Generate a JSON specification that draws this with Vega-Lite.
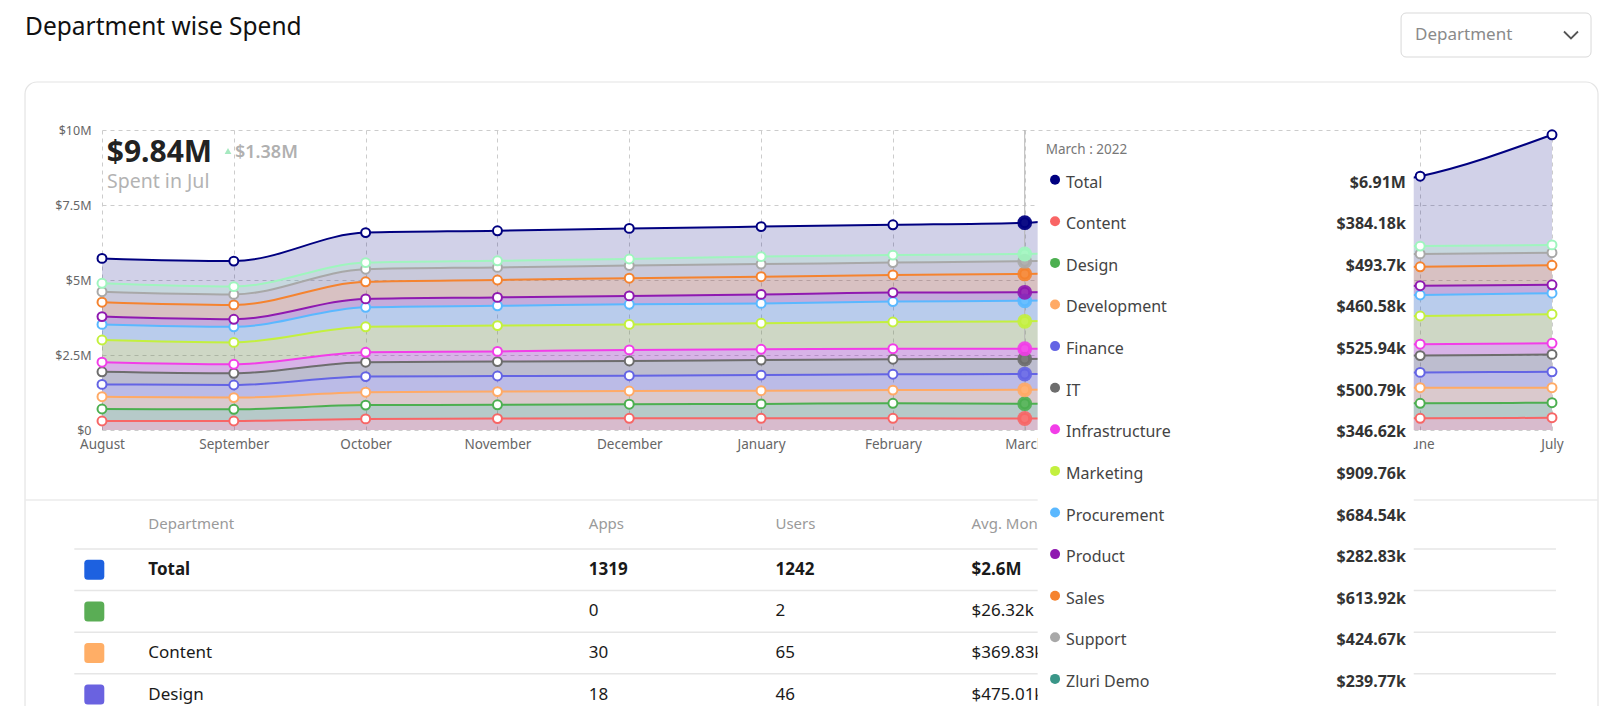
{
  "$schema": "https://vega.github.io/schema/vega-lite/v6.json",
  "width": 1450,
  "height": 300,
  "autosize": {"type": "none"},
  "padding": {"left": 102, "top": 130, "right": 48, "bottom": 276},
  "background": "#ffffff",
  "config": {"view": {"stroke": null}, "font": "Noto Sans"},
  "datasets": {
    "total": [
      {"month": "August", "total": 5720000},
      {"month": "September", "total": 5630000},
      {"month": "October", "total": 6580000},
      {"month": "November", "total": 6640000},
      {"month": "December", "total": 6720000},
      {"month": "January", "total": 6780000},
      {"month": "February", "total": 6840000},
      {"month": "March", "total": 6910000},
      {"month": "April", "total": 7420000},
      {"month": "May", "total": 7950000},
      {"month": "June", "total": 8460000},
      {"month": "July", "total": 9840000}
    ],
    "spend": [
      {"month": "August", "dept": "Content", "spend": 300000},
      {"month": "August", "dept": "Design", "spend": 400000},
      {"month": "August", "dept": "Development", "spend": 410000},
      {"month": "August", "dept": "Finance", "spend": 410000},
      {"month": "August", "dept": "IT", "spend": 420000},
      {"month": "August", "dept": "Infrastructure", "spend": 320000},
      {"month": "August", "dept": "Marketing", "spend": 740000},
      {"month": "August", "dept": "Procurement", "spend": 520000},
      {"month": "August", "dept": "Product", "spend": 260000},
      {"month": "August", "dept": "Sales", "spend": 480000},
      {"month": "August", "dept": "Support", "spend": 350000},
      {"month": "August", "dept": "Zluri Demo", "spend": 280000},
      {"month": "September", "dept": "Content", "spend": 300000},
      {"month": "September", "dept": "Design", "spend": 390000},
      {"month": "September", "dept": "Development", "spend": 390000},
      {"month": "September", "dept": "Finance", "spend": 420000},
      {"month": "September", "dept": "IT", "spend": 390000},
      {"month": "September", "dept": "Infrastructure", "spend": 300000},
      {"month": "September", "dept": "Marketing", "spend": 730000},
      {"month": "September", "dept": "Procurement", "spend": 520000},
      {"month": "September", "dept": "Product", "spend": 250000},
      {"month": "September", "dept": "Sales", "spend": 480000},
      {"month": "September", "dept": "Support", "spend": 350000},
      {"month": "September", "dept": "Zluri Demo", "spend": 260000},
      {"month": "October", "dept": "Content", "spend": 370000},
      {"month": "October", "dept": "Design", "spend": 460000},
      {"month": "October", "dept": "Development", "spend": 430000},
      {"month": "October", "dept": "Finance", "spend": 520000},
      {"month": "October", "dept": "IT", "spend": 480000},
      {"month": "October", "dept": "Infrastructure", "spend": 330000},
      {"month": "October", "dept": "Marketing", "spend": 850000},
      {"month": "October", "dept": "Procurement", "spend": 650000},
      {"month": "October", "dept": "Product", "spend": 280000},
      {"month": "October", "dept": "Sales", "spend": 570000},
      {"month": "October", "dept": "Support", "spend": 420000},
      {"month": "October", "dept": "Zluri Demo", "spend": 220000},
      {"month": "November", "dept": "Content", "spend": 380000},
      {"month": "November", "dept": "Design", "spend": 460000},
      {"month": "November", "dept": "Development", "spend": 440000},
      {"month": "November", "dept": "Finance", "spend": 520000},
      {"month": "November", "dept": "IT", "spend": 480000},
      {"month": "November", "dept": "Infrastructure", "spend": 340000},
      {"month": "November", "dept": "Marketing", "spend": 860000},
      {"month": "November", "dept": "Procurement", "spend": 660000},
      {"month": "November", "dept": "Product", "spend": 280000},
      {"month": "November", "dept": "Sales", "spend": 580000},
      {"month": "November", "dept": "Support", "spend": 420000},
      {"month": "November", "dept": "Zluri Demo", "spend": 220000},
      {"month": "December", "dept": "Content", "spend": 390000},
      {"month": "December", "dept": "Design", "spend": 470000},
      {"month": "December", "dept": "Development", "spend": 440000},
      {"month": "December", "dept": "Finance", "spend": 510000},
      {"month": "December", "dept": "IT", "spend": 490000},
      {"month": "December", "dept": "Infrastructure", "spend": 370000},
      {"month": "December", "dept": "Marketing", "spend": 850000},
      {"month": "December", "dept": "Procurement", "spend": 670000},
      {"month": "December", "dept": "Product", "spend": 280000},
      {"month": "December", "dept": "Sales", "spend": 590000},
      {"month": "December", "dept": "Support", "spend": 420000},
      {"month": "December", "dept": "Zluri Demo", "spend": 220000},
      {"month": "January", "dept": "Content", "spend": 390000},
      {"month": "January", "dept": "Design", "spend": 480000},
      {"month": "January", "dept": "Development", "spend": 440000},
      {"month": "January", "dept": "Finance", "spend": 520000},
      {"month": "January", "dept": "IT", "spend": 500000},
      {"month": "January", "dept": "Infrastructure", "spend": 360000},
      {"month": "January", "dept": "Marketing", "spend": 870000},
      {"month": "January", "dept": "Procurement", "spend": 660000},
      {"month": "January", "dept": "Product", "spend": 300000},
      {"month": "January", "dept": "Sales", "spend": 590000},
      {"month": "January", "dept": "Support", "spend": 420000},
      {"month": "January", "dept": "Zluri Demo", "spend": 250000},
      {"month": "February", "dept": "Content", "spend": 390000},
      {"month": "February", "dept": "Design", "spend": 500000},
      {"month": "February", "dept": "Development", "spend": 440000},
      {"month": "February", "dept": "Finance", "spend": 530000},
      {"month": "February", "dept": "IT", "spend": 500000},
      {"month": "February", "dept": "Infrastructure", "spend": 350000},
      {"month": "February", "dept": "Marketing", "spend": 890000},
      {"month": "February", "dept": "Procurement", "spend": 680000},
      {"month": "February", "dept": "Product", "spend": 300000},
      {"month": "February", "dept": "Sales", "spend": 590000},
      {"month": "February", "dept": "Support", "spend": 410000},
      {"month": "February", "dept": "Zluri Demo", "spend": 250000},
      {"month": "March", "dept": "Content", "spend": 384180},
      {"month": "March", "dept": "Design", "spend": 493700},
      {"month": "March", "dept": "Development", "spend": 460580},
      {"month": "March", "dept": "Finance", "spend": 525940},
      {"month": "March", "dept": "IT", "spend": 500790},
      {"month": "March", "dept": "Infrastructure", "spend": 346620},
      {"month": "March", "dept": "Marketing", "spend": 909760},
      {"month": "March", "dept": "Procurement", "spend": 684540},
      {"month": "March", "dept": "Product", "spend": 282830},
      {"month": "March", "dept": "Sales", "spend": 613920},
      {"month": "March", "dept": "Support", "spend": 424670},
      {"month": "March", "dept": "Zluri Demo", "spend": 239770},
      {"month": "April", "dept": "Content", "spend": 388000},
      {"month": "April", "dept": "Design", "spend": 497000},
      {"month": "April", "dept": "Development", "spend": 480000},
      {"month": "April", "dept": "Finance", "spend": 522000},
      {"month": "April", "dept": "IT", "spend": 520000},
      {"month": "April", "dept": "Infrastructure", "spend": 360000},
      {"month": "April", "dept": "Marketing", "spend": 920000},
      {"month": "April", "dept": "Procurement", "spend": 690000},
      {"month": "April", "dept": "Product", "spend": 295000},
      {"month": "April", "dept": "Sales", "spend": 620000},
      {"month": "April", "dept": "Support", "spend": 428000},
      {"month": "April", "dept": "Zluri Demo", "spend": 250000},
      {"month": "May", "dept": "Content", "spend": 390000},
      {"month": "May", "dept": "Design", "spend": 498000},
      {"month": "May", "dept": "Development", "spend": 500000},
      {"month": "May", "dept": "Finance", "spend": 518000},
      {"month": "May", "dept": "IT", "spend": 540000},
      {"month": "May", "dept": "Infrastructure", "spend": 370000},
      {"month": "May", "dept": "Marketing", "spend": 930000},
      {"month": "May", "dept": "Procurement", "spend": 696000},
      {"month": "May", "dept": "Product", "spend": 302000},
      {"month": "May", "dept": "Sales", "spend": 626000},
      {"month": "May", "dept": "Support", "spend": 430000},
      {"month": "May", "dept": "Zluri Demo", "spend": 255000},
      {"month": "June", "dept": "Content", "spend": 390000},
      {"month": "June", "dept": "Design", "spend": 500000},
      {"month": "June", "dept": "Development", "spend": 520000},
      {"month": "June", "dept": "Finance", "spend": 510000},
      {"month": "June", "dept": "IT", "spend": 560000},
      {"month": "June", "dept": "Infrastructure", "spend": 380000},
      {"month": "June", "dept": "Marketing", "spend": 940000},
      {"month": "June", "dept": "Procurement", "spend": 700000},
      {"month": "June", "dept": "Product", "spend": 310000},
      {"month": "June", "dept": "Sales", "spend": 630000},
      {"month": "June", "dept": "Support", "spend": 430000},
      {"month": "June", "dept": "Zluri Demo", "spend": 260000},
      {"month": "July", "dept": "Content", "spend": 410000},
      {"month": "July", "dept": "Design", "spend": 500000},
      {"month": "July", "dept": "Development", "spend": 500000},
      {"month": "July", "dept": "Finance", "spend": 530000},
      {"month": "July", "dept": "IT", "spend": 580000},
      {"month": "July", "dept": "Infrastructure", "spend": 370000},
      {"month": "July", "dept": "Marketing", "spend": 970000},
      {"month": "July", "dept": "Procurement", "spend": 700000},
      {"month": "July", "dept": "Product", "spend": 280000},
      {"month": "July", "dept": "Sales", "spend": 650000},
      {"month": "July", "dept": "Support", "spend": 420000},
      {"month": "July", "dept": "Zluri Demo", "spend": 260000}
    ],
    "tooltip": [
      {"row": 0, "dept": "Total", "value": 6910000},
      {"row": 1, "dept": "Content", "value": 384180},
      {"row": 2, "dept": "Design", "value": 493700},
      {"row": 3, "dept": "Development", "value": 460580},
      {"row": 4, "dept": "Finance", "value": 525940},
      {"row": 5, "dept": "IT", "value": 500790},
      {"row": 6, "dept": "Infrastructure", "value": 346620},
      {"row": 7, "dept": "Marketing", "value": 909760},
      {"row": 8, "dept": "Procurement", "value": 684540},
      {"row": 9, "dept": "Product", "value": 282830},
      {"row": 10, "dept": "Sales", "value": 613920},
      {"row": 11, "dept": "Support", "value": 424670},
      {"row": 12, "dept": "Zluri Demo", "value": 239770}
    ],
    "table": [
      {"row": 0, "dept": "Total", "apps": 1319, "users": 1242, "avg": 2600000},
      {"row": 1, "dept": "", "apps": 0, "users": 2, "avg": 26320},
      {"row": 2, "dept": "Content", "apps": 30, "users": 65, "avg": 369830},
      {"row": 3, "dept": "Design", "apps": 18, "users": 46, "avg": 475010}
    ]
  },
  "layer": [
    {
      "data": {"values": [{}]},
      "layer": [
        {
          "mark": {"type": "rect", "filled": false, "stroke": "#e4e4e4", "strokeWidth": 1.2, "cornerRadius": 12},
          "encoding": {
            "x": {"datum": -0.584, "type": "quantitative", "scale": {"domain": [0, 11], "nice": false, "zero": false}, "axis": null},
            "x2": {"datum": 11.349},
            "y": {"datum": 11.6, "type": "quantitative", "scale": {"domain": [0, 10], "nice": false, "zero": false}, "axis": null},
            "y2": {"datum": -10}
          }
        },
        {
          "mark": {"type": "rule", "stroke": "#ebebeb", "strokeWidth": 1.5},
          "encoding": {
            "x": {"datum": -0.584, "type": "quantitative", "scale": {"domain": [0, 11], "nice": false, "zero": false}, "axis": null},
            "x2": {"datum": 11.349},
            "y": {"datum": -2.333, "type": "quantitative", "scale": {"domain": [0, 10], "nice": false, "zero": false}, "axis": null}
          }
        },
        {
          "mark": {"type": "rect", "fill": "#ffffff", "stroke": "#d9d9d9", "strokeWidth": 1, "cornerRadius": 5},
          "encoding": {
            "x": {"datum": 9.855, "type": "quantitative", "scale": {"domain": [0, 11], "nice": false, "zero": false}, "axis": null},
            "x2": {"datum": 11.296},
            "y": {"datum": 13.9, "type": "quantitative", "scale": {"domain": [0, 10], "nice": false, "zero": false}, "axis": null},
            "y2": {"datum": 12.433}
          }
        },
        {
          "mark": {"type": "text", "text": "Department", "align": "left", "baseline": "middle", "fontSize": 17, "color": "#8a8a8a"},
          "encoding": {
            "x": {"datum": 9.961, "type": "quantitative", "scale": {"domain": [0, 11], "nice": false, "zero": false}, "axis": null},
            "y": {"datum": 13.167, "type": "quantitative", "scale": {"domain": [0, 10], "nice": false, "zero": false}, "axis": null}
          }
        },
        {
          "mark": {"type": "point", "shape": "M-1,-0.5L0,0.5L1,-0.5", "size": 196, "filled": false, "color": "#555555", "strokeWidth": 1.8, "opacity": 1},
          "encoding": {
            "x": {"datum": 11.144, "type": "quantitative", "scale": {"domain": [0, 11], "nice": false, "zero": false}, "axis": null},
            "y": {"datum": 13.167, "type": "quantitative", "scale": {"domain": [0, 10], "nice": false, "zero": false}, "axis": null}
          }
        },
        {
          "mark": {"type": "text", "text": "Department wise Spend", "align": "left", "baseline": "middle", "fontSize": 24.5, "color": "#111111"},
          "encoding": {
            "x": {"datum": -0.584, "type": "quantitative", "scale": {"domain": [0, 11], "nice": false, "zero": false}, "axis": null},
            "y": {"datum": 13.4, "type": "quantitative", "scale": {"domain": [0, 10], "nice": false, "zero": false}, "axis": null}
          }
        },
        {
          "data": {"name": "total"},
          "transform": [{"filter": "datum.month === 'July'"}],
          "mark": {"type": "text", "align": "left", "baseline": "alphabetic", "fontSize": 30, "fontWeight": "bold", "color": "#222222"},
          "encoding": {
            "x": {"datum": 0.036, "type": "quantitative", "scale": {"domain": [0, 11], "nice": false, "zero": false}, "axis": null},
            "y": {"datum": 8.943, "type": "quantitative", "scale": {"domain": [0, 10], "nice": false, "zero": false}, "axis": null},
            "text": {"field": "total", "type": "quantitative", "format": "$.3~s"}
          }
        },
        {
          "mark": {"type": "point", "shape": "triangle-up", "size": 45, "filled": true, "color": "#a6e9c0", "opacity": 1},
          "encoding": {
            "x": {"datum": 0.956, "type": "quantitative", "scale": {"domain": [0, 11], "nice": false, "zero": false}, "axis": null},
            "y": {"datum": 9.3, "type": "quantitative", "scale": {"domain": [0, 10], "nice": false, "zero": false}, "axis": null}
          }
        },
        {
          "mark": {"type": "text", "text": "$1.38M", "align": "left", "baseline": "alphabetic", "fontSize": 18, "fontWeight": 600, "color": "#b0b0b0"},
          "encoding": {
            "x": {"datum": 1.009, "type": "quantitative", "scale": {"domain": [0, 11], "nice": false, "zero": false}, "axis": null},
            "y": {"datum": 9.077, "type": "quantitative", "scale": {"domain": [0, 10], "nice": false, "zero": false}, "axis": null}
          }
        },
        {
          "mark": {"type": "text", "text": "Spent in Jul", "align": "left", "baseline": "alphabetic", "fontSize": 19.5, "color": "#b3b3b3"},
          "encoding": {
            "x": {"datum": 0.038, "type": "quantitative", "scale": {"domain": [0, 11], "nice": false, "zero": false}, "axis": null},
            "y": {"datum": 8.057, "type": "quantitative", "scale": {"domain": [0, 10], "nice": false, "zero": false}, "axis": null}
          }
        }
      ]
    },
    {
      "encoding": {
        "x": {
          "field": "month", "type": "ordinal",
          "scale": {"type": "point", "padding": 0, "domain": ["August", "September", "October", "November", "December", "January", "February", "March", "April", "May", "June", "July"]},
          "axis": {"title": null, "labelAngle": 0, "labelFontSize": 13.5, "labelColor": "#666666", "labelPadding": 7, "ticks": false, "domain": false, "grid": true, "gridDash": [4, 4], "gridColor": "#cccccc", "labelOverlap": false, "labelFlush": false, "labelExpr": "datum.value === 'April' || datum.value === 'May' ? '' : datum.value"}
        }
      },
      "layer": [
        {
          "data": {"name": "total"},
          "mark": {"type": "area", "interpolate": "monotone", "color": "#000080", "opacity": 0.18},
          "encoding": {
            "y": {
              "field": "total", "type": "quantitative", "title": null,
              "scale": {"domain": [0, 10000000], "nice": false},
              "axis": {"values": [0, 2500000, 5000000, 7500000, 10000000], "labelExpr": "datum.value === 0 ? '$0' : '$' + (datum.value / 1000000) + 'M'", "labelFontSize": 12.5, "labelColor": "#666666", "labelPadding": 11, "ticks": false, "tickSize": 0, "domain": false, "grid": true, "gridDash": [4, 4], "gridColor": "#cccccc"}
            }
          }
        },
        {
          "data": {"name": "spend"},
          "transform": [{"stack": "spend", "groupby": ["month"], "sort": [{"field": "dept", "order": "ascending"}], "as": ["y0", "y1"]}],
          "mark": {"type": "area", "interpolate": "monotone", "fillOpacity": 0.2},
          "encoding": {
            "y": {"field": "y1", "type": "quantitative", "title": null},
            "y2": {"field": "y0"},
            "color": {"field": "dept", "type": "nominal", "legend": null, "scale": {"domain": ["Content", "Design", "Development", "Finance", "IT", "Infrastructure", "Marketing", "Procurement", "Product", "Sales", "Support", "Zluri Demo"], "range": ["#f76666", "#4caf50", "#ffaa66", "#6464e4", "#6d6d6d", "#f23de8", "#c3f03e", "#5ab8ff", "#8f19b0", "#f5832f", "#a8a8a8", "#9ff5be"]}}
          }
        },
        {
          "data": {"name": "spend"},
          "transform": [{"stack": "spend", "groupby": ["month"], "sort": [{"field": "dept", "order": "ascending"}], "as": ["y0", "y1"]}],
          "mark": {"type": "line", "interpolate": "monotone", "strokeWidth": 2},
          "encoding": {
            "y": {"field": "y1", "type": "quantitative", "title": null},
            "color": {"field": "dept", "type": "nominal", "legend": null, "scale": {"domain": ["Content", "Design", "Development", "Finance", "IT", "Infrastructure", "Marketing", "Procurement", "Product", "Sales", "Support", "Zluri Demo"], "range": ["#f76666", "#4caf50", "#ffaa66", "#6464e4", "#6d6d6d", "#f23de8", "#c3f03e", "#5ab8ff", "#8f19b0", "#f5832f", "#a8a8a8", "#9ff5be"]}}
          }
        },
        {
          "data": {"name": "total"},
          "mark": {"type": "line", "interpolate": "monotone", "strokeWidth": 2, "color": "#000080"},
          "encoding": {"y": {"field": "total", "type": "quantitative", "title": null}}
        },
        {
          "data": {"name": "total"},
          "transform": [{"filter": "datum.month === 'March'"}],
          "mark": {"type": "rule", "color": "#b5b5b5", "strokeWidth": 1},
          "encoding": {}
        },
        {
          "data": {"name": "spend"},
          "transform": [{"stack": "spend", "groupby": ["month"], "sort": [{"field": "dept", "order": "ascending"}], "as": ["y0", "y1"]}],
          "mark": {"type": "point", "filled": true, "fill": "#ffffff", "strokeWidth": 2, "size": 80, "opacity": 1},
          "encoding": {
            "y": {"field": "y1", "type": "quantitative", "title": null},
            "stroke": {"field": "dept", "type": "nominal", "legend": null, "scale": {"domain": ["Content", "Design", "Development", "Finance", "IT", "Infrastructure", "Marketing", "Procurement", "Product", "Sales", "Support", "Zluri Demo"], "range": ["#f76666", "#4caf50", "#ffaa66", "#6464e4", "#6d6d6d", "#f23de8", "#c3f03e", "#5ab8ff", "#8f19b0", "#f5832f", "#a8a8a8", "#9ff5be"]}}
          }
        },
        {
          "data": {"name": "total"},
          "mark": {"type": "point", "filled": true, "fill": "#ffffff", "stroke": "#000080", "strokeWidth": 2, "size": 80, "opacity": 1},
          "encoding": {"y": {"field": "total", "type": "quantitative", "title": null}}
        },
        {
          "data": {"name": "spend"},
          "transform": [{"stack": "spend", "groupby": ["month"], "sort": [{"field": "dept", "order": "ascending"}], "as": ["y0", "y1"]}, {"filter": "datum.month === 'March'"}],
          "mark": {"type": "circle", "size": 220, "opacity": 0.9},
          "encoding": {
            "y": {"field": "y1", "type": "quantitative", "title": null},
            "color": {"field": "dept", "type": "nominal", "legend": null, "scale": {"domain": ["Content", "Design", "Development", "Finance", "IT", "Infrastructure", "Marketing", "Procurement", "Product", "Sales", "Support", "Zluri Demo"], "range": ["#f76666", "#4caf50", "#ffaa66", "#6464e4", "#6d6d6d", "#f23de8", "#c3f03e", "#5ab8ff", "#8f19b0", "#f5832f", "#a8a8a8", "#9ff5be"]}}
          }
        },
        {
          "data": {"name": "total"},
          "transform": [{"filter": "datum.month === 'March'"}],
          "mark": {"type": "circle", "size": 220, "opacity": 0.95, "color": "#000080"},
          "encoding": {"y": {"field": "total", "type": "quantitative", "title": null}}
        }
      ]
    },
    {
      "data": {"name": "table"},
      "layer": [
        {
          "mark": {"type": "rule", "stroke": "#e6e6e6", "strokeWidth": 1.5, "yOffset": -20.8},
          "encoding": {
            "x": {"datum": -0.2101, "type": "quantitative", "scale": {"domain": [0, 11], "nice": false, "zero": false}, "axis": null},
            "x2": {"datum": 11.03},
            "y": {"field": "row", "type": "quantitative", "scale": {"domain": [-10.572, -3.3607], "reverse": true, "nice": false, "zero": false}, "axis": null}
          }
        },
        {
          "mark": {"type": "point", "shape": "M-0.65,-1H0.65Q1,-1,1,-0.65V0.65Q1,1,0.65,1H-0.65Q-1,1,-1,0.65V-0.65Q-1,-1,-0.65,-1Z", "size": 400, "filled": true, "opacity": 1},
          "encoding": {
            "x": {"datum": -0.0584, "type": "quantitative", "scale": {"domain": [0, 11], "nice": false, "zero": false}, "axis": null},
            "y": {"field": "row", "type": "quantitative", "scale": {"domain": [-10.572, -3.3607], "reverse": true, "nice": false, "zero": false}, "axis": null},
            "color": {"field": "dept", "type": "nominal", "legend": null, "scale": {"domain": ["Total", "", "Content", "Design"], "range": ["#1d61e0", "#5aad55", "#ffae66", "#6a62e0"]}}
          }
        },
        {
          "mark": {"type": "text", "align": "left", "baseline": "middle", "fontSize": 17, "color": "#1a1a1a", "fontWeight": {"expr": "datum.row === 0 ? 'bold' : 'normal'"}},
          "encoding": {
            "x": {"datum": 0.3513, "type": "quantitative", "scale": {"domain": [0, 11], "nice": false, "zero": false}, "axis": null},
            "y": {"field": "row", "type": "quantitative", "scale": {"domain": [-10.572, -3.3607], "reverse": true, "nice": false, "zero": false}, "axis": null},
            "text": {"field": "dept", "type": "nominal"}
          }
        },
        {
          "mark": {"type": "text", "align": "left", "baseline": "middle", "fontSize": 17, "color": "#1a1a1a", "fontWeight": {"expr": "datum.row === 0 ? 'bold' : 'normal'"}},
          "encoding": {
            "x": {"datum": 3.693, "type": "quantitative", "scale": {"domain": [0, 11], "nice": false, "zero": false}, "axis": null},
            "y": {"field": "row", "type": "quantitative", "scale": {"domain": [-10.572, -3.3607], "reverse": true, "nice": false, "zero": false}, "axis": null},
            "text": {"field": "apps", "type": "quantitative", "format": "d"}
          }
        },
        {
          "mark": {"type": "text", "align": "left", "baseline": "middle", "fontSize": 17, "color": "#1a1a1a", "fontWeight": {"expr": "datum.row === 0 ? 'bold' : 'normal'"}},
          "encoding": {
            "x": {"datum": 5.109, "type": "quantitative", "scale": {"domain": [0, 11], "nice": false, "zero": false}, "axis": null},
            "y": {"field": "row", "type": "quantitative", "scale": {"domain": [-10.572, -3.3607], "reverse": true, "nice": false, "zero": false}, "axis": null},
            "text": {"field": "users", "type": "quantitative", "format": "d"}
          }
        },
        {
          "mark": {"type": "text", "align": "left", "baseline": "middle", "fontSize": 17, "color": "#1a1a1a", "fontWeight": {"expr": "datum.row === 0 ? 'bold' : 'normal'"}},
          "encoding": {
            "x": {"datum": 6.596, "type": "quantitative", "scale": {"domain": [0, 11], "nice": false, "zero": false}, "axis": null},
            "y": {"field": "row", "type": "quantitative", "scale": {"domain": [-10.572, -3.3607], "reverse": true, "nice": false, "zero": false}, "axis": null},
            "text": {"field": "avg", "type": "quantitative", "format": "$.5~s"}
          }
        },
        {
          "data": {"values": [{"col": "Department"}]},
          "mark": {"type": "text", "align": "left", "baseline": "middle", "fontSize": 15, "color": "#9a9a9a"},
          "encoding": {
            "x": {"datum": 0.3513, "type": "quantitative", "scale": {"domain": [0, 11], "nice": false, "zero": false}, "axis": null},
            "y": {"datum": -1.09, "type": "quantitative", "scale": {"domain": [-10.572, -3.3607], "reverse": true, "nice": false, "zero": false}, "axis": null},
            "text": {"field": "col", "type": "nominal"}
          }
        },
        {
          "data": {"values": [{"col": "Apps"}]},
          "mark": {"type": "text", "align": "left", "baseline": "middle", "fontSize": 15, "color": "#9a9a9a"},
          "encoding": {
            "x": {"datum": 3.693, "type": "quantitative", "scale": {"domain": [0, 11], "nice": false, "zero": false}, "axis": null},
            "y": {"datum": -1.09, "type": "quantitative", "scale": {"domain": [-10.572, -3.3607], "reverse": true, "nice": false, "zero": false}, "axis": null},
            "text": {"field": "col", "type": "nominal"}
          }
        },
        {
          "data": {"values": [{"col": "Users"}]},
          "mark": {"type": "text", "align": "left", "baseline": "middle", "fontSize": 15, "color": "#9a9a9a"},
          "encoding": {
            "x": {"datum": 5.109, "type": "quantitative", "scale": {"domain": [0, 11], "nice": false, "zero": false}, "axis": null},
            "y": {"datum": -1.09, "type": "quantitative", "scale": {"domain": [-10.572, -3.3607], "reverse": true, "nice": false, "zero": false}, "axis": null},
            "text": {"field": "col", "type": "nominal"}
          }
        },
        {
          "data": {"values": [{"col": "Avg. Monthly Spend"}]},
          "mark": {"type": "text", "align": "left", "baseline": "middle", "fontSize": 15, "color": "#9a9a9a"},
          "encoding": {
            "x": {"datum": 6.596, "type": "quantitative", "scale": {"domain": [0, 11], "nice": false, "zero": false}, "axis": null},
            "y": {"datum": -1.09, "type": "quantitative", "scale": {"domain": [-10.572, -3.3607], "reverse": true, "nice": false, "zero": false}, "axis": null},
            "text": {"field": "col", "type": "nominal"}
          }
        }
      ]
    },
    {
      "layer": [
        {
          "data": {"values": [{}]},
          "mark": {"type": "rect", "fill": "#ffffff", "cornerRadius": 6},
          "encoding": {
            "x": {"datum": 7.098, "type": "quantitative", "scale": {"domain": [0, 11], "nice": false, "zero": false}, "axis": null},
            "x2": {"datum": 9.951},
            "y": {"datum": -1.243, "type": "quantitative", "scale": {"domain": [-1.2668, 5.9447], "reverse": true, "nice": false, "zero": false}, "axis": null},
            "y2": {"datum": 12.48}
          }
        },
        {
          "data": {"values": [{}]},
          "mark": {"type": "text", "text": "March : 2022", "align": "left", "baseline": "middle", "fontSize": 13.5, "color": "#777777"},
          "encoding": {
            "x": {"datum": 7.159, "type": "quantitative", "scale": {"domain": [0, 11], "nice": false, "zero": false}, "axis": null},
            "y": {"datum": -0.786, "type": "quantitative", "scale": {"domain": [-1.2668, 5.9447], "reverse": true, "nice": false, "zero": false}, "axis": null}
          }
        },
        {
          "data": {"name": "tooltip"},
          "mark": {"type": "circle", "size": 100, "opacity": 1, "yOffset": -3},
          "encoding": {
            "x": {"datum": 7.23, "type": "quantitative", "scale": {"domain": [0, 11], "nice": false, "zero": false}, "axis": null},
            "y": {"field": "row", "type": "quantitative", "scale": {"domain": [-1.2668, 5.9447], "reverse": true, "nice": false, "zero": false}, "axis": null},
            "color": {"field": "dept", "type": "nominal", "legend": null, "scale": {"domain": ["Total", "Content", "Design", "Development", "Finance", "IT", "Infrastructure", "Marketing", "Procurement", "Product", "Sales", "Support", "Zluri Demo"], "range": ["#000080", "#f96565", "#4caf50", "#ffaa66", "#6464e4", "#6d6d6d", "#f23de8", "#c3f03e", "#5ab8ff", "#8f19b0", "#f5832f", "#a8a8a8", "#3a9688"]}}
          }
        },
        {
          "data": {"name": "tooltip"},
          "mark": {"type": "text", "align": "left", "baseline": "middle", "fontSize": 16, "color": "#444444"},
          "encoding": {
            "x": {"datum": 7.313, "type": "quantitative", "scale": {"domain": [0, 11], "nice": false, "zero": false}, "axis": null},
            "y": {"field": "row", "type": "quantitative", "scale": {"domain": [-1.2668, 5.9447], "reverse": true, "nice": false, "zero": false}, "axis": null},
            "text": {"field": "dept", "type": "nominal"}
          }
        },
        {
          "data": {"name": "tooltip"},
          "mark": {"type": "text", "align": "right", "baseline": "middle", "fontSize": 16, "fontWeight": "bold", "color": "#333333"},
          "encoding": {
            "x": {"datum": 9.892, "type": "quantitative", "scale": {"domain": [0, 11], "nice": false, "zero": false}, "axis": null},
            "y": {"field": "row", "type": "quantitative", "scale": {"domain": [-1.2668, 5.9447], "reverse": true, "nice": false, "zero": false}, "axis": null},
            "text": {"field": "value", "type": "quantitative", "format": "$.5~s"}
          }
        }
      ]
    }
  ],
  "resolve": {"scale": {"x": "independent", "y": "independent", "color": "independent", "stroke": "independent"}}
}
